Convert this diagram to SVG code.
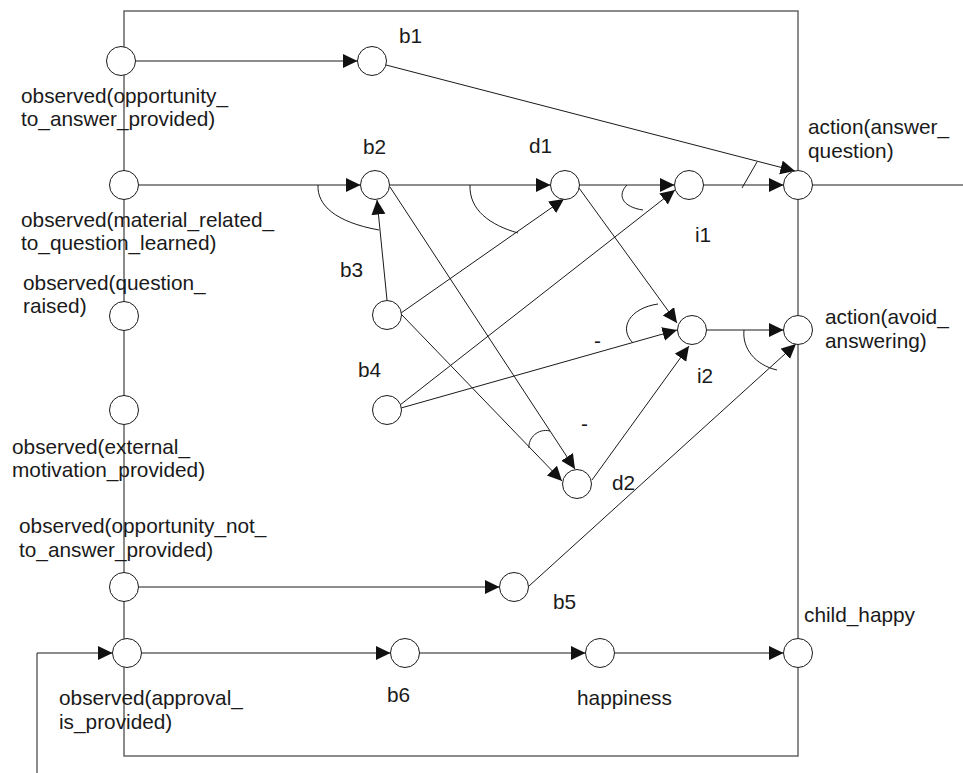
<svg xmlns="http://www.w3.org/2000/svg" width="963" height="773" viewBox="0 0 963 773">
<style>
text{font-family:"Liberation Sans",Arial,Helvetica,sans-serif;font-size:20.8px;fill:#1a1a1a}
.n{fill:#fff;stroke:#1a1a1a;stroke-width:1}
.e{fill:none;stroke:#1a1a1a;stroke-width:1}
.a{marker-end:url(#arr)}
.border{fill:none;stroke:#666;stroke-width:1.5}
</style>
<defs>
<marker id="arr" markerUnits="userSpaceOnUse" markerWidth="16" markerHeight="16" refX="14.5" refY="7" orient="auto">
<path d="M0,0 L14.5,7 L0,14 z" fill="#111"/>
</marker>
</defs>
<rect class="border" x="124" y="11" width="674" height="745"/>
<g id="connectors">
<path class="e a" d="M135.5,61 L357.5,61"/>
<path class="e a" d="M386,65 L795,171"/>
<path class="e a" d="M138.5,185 L360.5,185"/>
<path class="e a" d="M387,300 L377,200"/>
<path class="e" d="M318,185 C317,205 335,222 379,230"/>
<path class="e a" d="M389.5,185 L550.5,185"/>
<path class="e a" d="M401,313 L564,199"/>
<path class="e" d="M470,185 C469,210 490,225 518,233"/>
<path class="e a" d="M579.5,185 L674.5,185"/>
<path class="e a" d="M400,405 L675,190"/>
<path class="e" d="M627,185 C617,195 622,207 643,210"/>
<path class="e a" d="M703.5,185 L783.5,185"/>
<path class="e" d="M742,188 L757,162"/>
<path class="e a" d="M390,187 L575,469"/>
<path class="e a" d="M402,315 L562,481"/>
<path class="e" d="M529,448 C528,438 538,428 550,431"/>
<path class="e a" d="M579,188 L677,323"/>
<path class="e a" d="M401,408 L677,330"/>
<path class="e" d="M658,304 C630,308 618,328 633,343"/>
<path class="e a" d="M592,480 L689,346"/>
<path class="e a" d="M706.5,330 L783.5,330"/>
<path class="e a" d="M529,586 L796,344"/>
<path class="e" d="M744,330 C742,348 755,365 777,370"/>
<path class="e a" d="M138.5,587 L499.5,587"/>
<path class="e a" d="M141.5,653 L390.5,653"/>
<path class="e a" d="M419.5,653 L585.5,653"/>
<path class="e a" d="M614.5,653 L783.5,653"/>
<path class="e a" d="M37,773 L37,653 L112.5,653"/>
<path class="e" d="M812.5,185 L963,185"/>
<text x="594" y="348">-</text>
<text x="581" y="431">-</text>
</g>
<g id="o1"><circle class="n" cx="121" cy="61" r="14.5"/><text x="21" y="103">observed(opportunity_</text><text x="21" y="126">to_answer_provided)</text></g>
<g id="o2"><circle class="n" cx="124" cy="185" r="14.5"/><text x="21" y="227">observed(material_related_</text><text x="21" y="250">to_question_learned)</text></g>
<g id="o3"><circle class="n" cx="124" cy="316" r="14.5"/><text x="23" y="289.5">observed(question_</text><text x="23" y="313">raised)</text></g>
<g id="o4"><circle class="n" cx="124" cy="410" r="14.5"/><text x="12" y="453.5">observed(external_</text><text x="12" y="477">motivation_provided)</text></g>
<g id="o5"><circle class="n" cx="124" cy="587" r="14.5"/><text x="19" y="533">observed(opportunity_not_</text><text x="19" y="556.5">to_answer_provided)</text></g>
<g id="o6"><circle class="n" cx="127" cy="653" r="14.5"/><text x="59" y="705">observed(approval_</text><text x="59" y="728.5">is_provided)</text></g>
<g id="b1"><circle class="n" cx="372" cy="61" r="14.5"/><text x="399" y="43">b1</text></g>
<g id="b2"><circle class="n" cx="375" cy="185" r="14.5"/><text x="363" y="153.5">b2</text></g>
<g id="b3"><circle class="n" cx="387" cy="315" r="14.5"/><text x="340" y="277">b3</text></g>
<g id="b4"><circle class="n" cx="387" cy="410" r="14.5"/><text x="358" y="377">b4</text></g>
<g id="b5"><circle class="n" cx="514" cy="587" r="14.5"/><text x="553" y="609">b5</text></g>
<g id="b6"><circle class="n" cx="405" cy="653" r="14.5"/><text x="387" y="702">b6</text></g>
<g id="d1"><circle class="n" cx="565" cy="185" r="14.5"/><text x="529" y="152.5">d1</text></g>
<g id="d2"><circle class="n" cx="577" cy="484" r="14.5"/><text x="612" y="490">d2</text></g>
<g id="i1"><circle class="n" cx="689" cy="185" r="14.5"/><text x="695" y="242">i1</text></g>
<g id="i2"><circle class="n" cx="692" cy="330" r="14.5"/><text x="697" y="383">i2</text></g>
<g id="happiness"><circle class="n" cx="600" cy="653" r="14.5"/><text x="577" y="705">happiness</text></g>
<g id="answer_question"><circle class="n" cx="798" cy="185" r="14.5"/><text x="808" y="134">action(answer_</text><text x="808" y="157.5">question)</text></g>
<g id="avoid_answering"><circle class="n" cx="798" cy="330" r="14.5"/><text x="825" y="324">action(avoid_</text><text x="825" y="347.5">answering)</text></g>
<g id="child_happy"><circle class="n" cx="798" cy="653" r="14.5"/><text x="804" y="622">child_happy</text></g>
</svg>
